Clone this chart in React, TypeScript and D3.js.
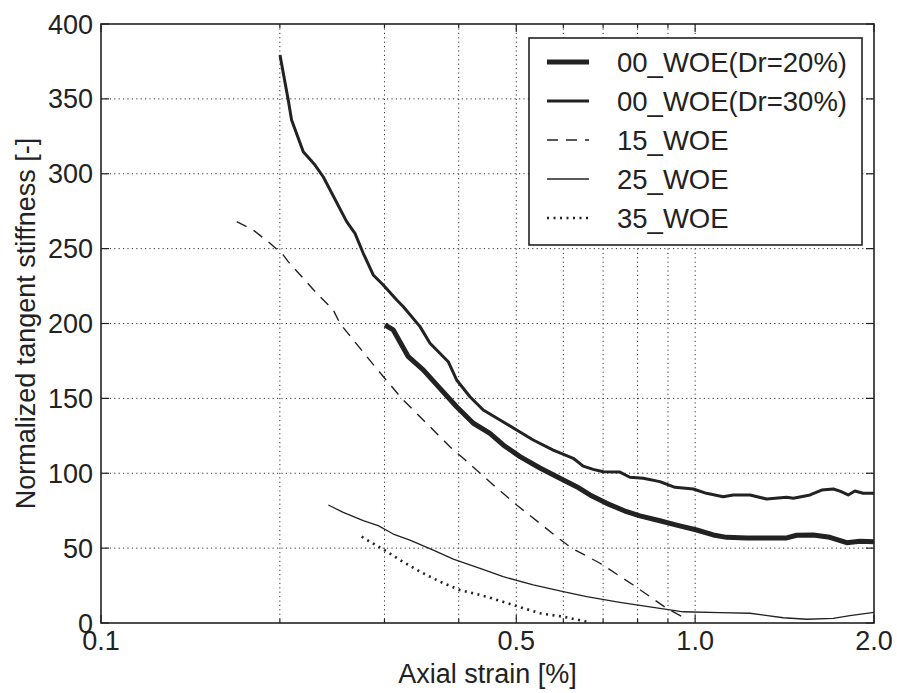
import React from "react";
import * as d3 from "d3";

const xTickValues = [0.1, 0.5, 1.0, 2.0];
const xTickLabels = ["0.1", "0.5", "1.0", "2.0"];
const xMinorTicks = [0.2, 0.3, 0.4, 0.6, 0.7, 0.8, 0.9];
const xGridValues = [0.2, 0.3, 0.4, 0.5, 0.6, 0.7, 0.8, 0.9, 1.0];
const yTickValues = [0, 50, 100, 150, 200, 250, 300, 350, 400];

const seriesNames = ["00_WOE(Dr=20%)", "00_WOE(Dr=30%)", "15_WOE", "25_WOE", "35_WOE"];

const dr20Strain = [0.3006, 0.3104, 0.329, 0.3486, 0.372, 0.3968, 0.4233, 0.4515, 0.4753, 0.5072, 0.548, 0.5921, 0.6318, 0.6653, 0.7098, 0.7668, 0.8074, 0.8723, 0.9309, 1.006, 1.073, 1.13, 1.221, 1.319, 1.426, 1.482, 1.58, 1.686, 1.799, 1.894, 2.0];
const dr20Value = [199.0, 195.7, 177.8, 169.0, 156.7, 144.4, 133.4, 126.7, 118.9, 111.1, 103.5, 96.6, 91.0, 85.5, 79.9, 74.3, 71.5, 68.3, 65.4, 62.1, 58.8, 57.2, 56.8, 56.8, 56.8, 58.6, 58.8, 57.2, 53.6, 54.6, 54.3];

const dr30Strain = [0.2001, 0.2066, 0.2093, 0.219, 0.2292, 0.2366, 0.2591, 0.2676, 0.2763, 0.2872, 0.2986, 0.3146, 0.3228, 0.3443, 0.3579, 0.3841, 0.3968, 0.4178, 0.4399, 0.4694, 0.5007, 0.5339, 0.577, 0.6235, 0.648, 0.6736, 0.7003, 0.747, 0.7766, 0.8176, 0.8723, 0.9247, 0.9926, 1.045, 1.115, 1.159, 1.237, 1.319, 1.426, 1.463, 1.561, 1.633, 1.708, 1.753, 1.81, 1.857, 1.918, 2.0];
const dr30Value = [379.3, 349.2, 335.9, 314.7, 305.8, 298.0, 268.0, 260.2, 246.9, 232.4, 225.7, 215.7, 211.2, 197.9, 186.8, 174.5, 162.3, 151.1, 142.2, 135.6, 128.9, 122.2, 115.5, 110.0, 104.8, 102.6, 101.0, 100.8, 97.3, 96.6, 94.4, 90.6, 89.5, 86.6, 84.3, 85.5, 85.5, 82.8, 83.9, 83.3, 85.5, 88.8, 89.5, 88.1, 85.5, 88.1, 86.6, 86.6];

const woe15Strain = [0.1692, 0.1804, 0.1925, 0.2027, 0.2066, 0.2307, 0.246, 0.2525, 0.2891, 0.3207, 0.3866, 0.4072, 0.4573, 0.5007, 0.5921, 0.6197, 0.6917, 0.7868, 0.8954, 0.9736];
const woe15Value = [268.0, 262.4, 253.6, 245.7, 241.3, 220.2, 209.0, 200.0, 171.2, 150.0, 117.7, 110.0, 92.2, 78.8, 55.9, 50.0, 39.9, 25.4, 9.8, 2.0];

const woe25Strain = [0.2413, 0.2557, 0.2763, 0.2928, 0.3104, 0.3311, 0.3625, 0.3917, 0.4344, 0.4753, 0.5339, 0.5998, 0.6568, 0.747, 0.8723, 0.955, 1.1, 1.237, 1.407, 1.541, 1.708, 1.822, 2.0];
const woe25Value = [78.8, 73.9, 68.3, 65.0, 59.4, 55.4, 48.7, 42.7, 36.5, 30.9, 25.4, 20.9, 17.6, 13.8, 9.8, 7.5, 6.9, 6.5, 3.5, 2.5, 3.1, 4.9, 7.1];

const woe35Strain = [0.2746, 0.2986, 0.3186, 0.3443, 0.372, 0.402, 0.4458, 0.4942, 0.5481, 0.5998, 0.6568];
const woe35Value = [57.6, 49.2, 42.1, 34.3, 27.6, 22.0, 17.6, 12.0, 6.5, 4.2, 0.9];

const W = 897;
const H = 693;
const M = { left: 101, right: 874, top: 24, bottom: 623 };
const FONT = "'Liberation Sans', Arial, Helvetica, sans-serif";
const FS = 27;
const INK = "#222";

const styles = [
  { width: 5, dash: "" },
  { width: 3, dash: "" },
  { width: 1.4, dash: "11,8" },
  { width: 1.3, dash: "" },
  { width: 2.6, dash: "2,4.5" },
];

export default function App() {
  const x = d3.scaleLog().domain([0.1, 2.0]).range([M.left, M.right]);
  const y = d3.scaleLinear().domain([0, 400]).range([M.bottom, M.top]);

  const series = [
    { s: dr20Strain, v: dr20Value },
    { s: dr30Strain, v: dr30Value },
    { s: woe15Strain, v: woe15Value },
    { s: woe25Strain, v: woe25Value },
    { s: woe35Strain, v: woe35Value },
  ];

  const line = d3
    .line<[number, number]>()
    .x((d) => x(d[0]))
    .y((d) => y(d[1]));

  const legendX = 529;
  const legendY = 38;
  const legendW = 333;
  const legendH = 207;
  const rowY = (i: number) => legendY + 24 + i * 39;

  return (
    <svg
      width={W}
      height={H}
      style={{ position: "absolute", left: 0, top: 0, background: "#fff" }}
      fontFamily={FONT}
    >
      <defs>
        <clipPath id="plotclip">
          <rect x={M.left} y={M.top} width={M.right - M.left} height={M.bottom - M.top} />
        </clipPath>
      </defs>
      <rect x={0} y={0} width={W} height={H} fill="#fff" />

      {/* grid */}
      <g stroke="#333" strokeWidth={1} strokeDasharray="1.2,3.2" fill="none">
        {xGridValues.map((v) => (
          <line key={"gx" + v} x1={x(v)} x2={x(v)} y1={M.top} y2={M.bottom} />
        ))}
        {yTickValues
          .filter((v) => v > 0 && v < 400)
          .map((v) => (
            <line key={"gy" + v} x1={M.left} x2={M.right} y1={y(v)} y2={y(v)} />
          ))}
      </g>

      {/* series */}
      <g clipPath="url(#plotclip)" fill="none" stroke={INK} strokeLinejoin="round">
        {series.map((ser, i) => (
          <path
            key={"s" + i}
            d={line(ser.s.map((s, j) => [s, ser.v[j]] as [number, number])) || ""}
            strokeWidth={styles[i].width}
            strokeDasharray={styles[i].dash || undefined}
            strokeLinecap={i === 4 ? "butt" : "butt"}
          />
        ))}
      </g>

      {/* ticks */}
      <g stroke={INK} strokeWidth={1.2}>
        {xTickValues.map((v) => (
          <g key={"tx" + v}>
            <line x1={x(v)} x2={x(v)} y1={M.bottom} y2={M.bottom - 8} />
            <line x1={x(v)} x2={x(v)} y1={M.top} y2={M.top + 8} />
          </g>
        ))}
        {xMinorTicks.map((v) => (
          <g key={"mx" + v}>
            <line x1={x(v)} x2={x(v)} y1={M.bottom} y2={M.bottom - 4} />
            <line x1={x(v)} x2={x(v)} y1={M.top} y2={M.top + 4} />
          </g>
        ))}
        {yTickValues.map((v) => (
          <g key={"ty" + v}>
            <line x1={M.left} x2={M.left + 8} y1={y(v)} y2={y(v)} />
            <line x1={M.right} x2={M.right - 8} y1={y(v)} y2={y(v)} />
          </g>
        ))}
      </g>

      {/* frame */}
      <rect
        x={M.left}
        y={M.top}
        width={M.right - M.left}
        height={M.bottom - M.top}
        fill="none"
        stroke={INK}
        strokeWidth={1.6}
      />

      {/* tick labels */}
      <g fontSize={FS} fill={INK}>
        {xTickValues.map((v, i) => (
          <text key={"lx" + v} x={x(v)} y={650} textAnchor="middle">
            {xTickLabels[i]}
          </text>
        ))}
        {yTickValues.map((v) => (
          <text key={"ly" + v} x={93} y={y(v) + 9.5} textAnchor="end">
            {String(v)}
          </text>
        ))}
      </g>

      {/* axis labels */}
      <text x={(M.left + M.right) / 2} y={683} textAnchor="middle" fontSize={FS} fill={INK}>
        Axial strain [%]
      </text>
      <text
        transform={`translate(35, ${(M.top + M.bottom) / 2}) rotate(-90)`}
        textAnchor="middle"
        fontSize={FS}
        fill={INK}
      >
        Normalized tangent stiffness [-]
      </text>

      {/* legend */}
      <rect
        x={legendX}
        y={legendY}
        width={legendW}
        height={legendH}
        fill="#fff"
        stroke={INK}
        strokeWidth={1.6}
      />
      {seriesNames.map((name, i) => (
        <g key={"lg" + i}>
          <line
            x1={547}
            x2={589}
            y1={rowY(i)}
            y2={rowY(i)}
            stroke={INK}
            strokeWidth={styles[i].width}
            strokeDasharray={styles[i].dash || undefined}
          />
          <text x={617} y={rowY(i) + 10} fontSize={FS + 0.5} fill={INK}>
            {name}
          </text>
        </g>
      ))}
    </svg>
  );
}
